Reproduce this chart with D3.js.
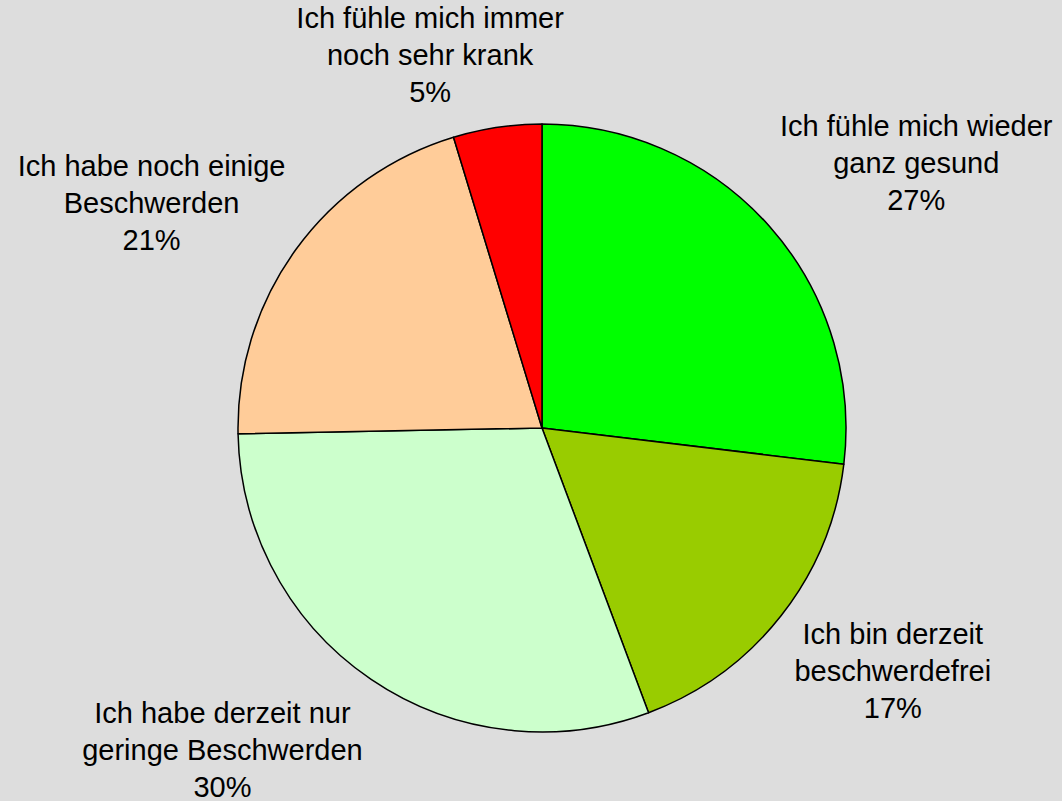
<!DOCTYPE html>
<html>
<head>
<meta charset="utf-8">
<script src="https://cdn.jsdelivr.net/npm/d3@7"></script>
<style>
  body { margin: 0; background: #dddddd; }
  svg { display: block; }
</style>
</head>
<body>
<div id="chart"></div>
<script>
const width = 1062;
const height = 801;

// Daten (Anteile in %)
const categories = [
  ["Ich fühle mich wieder", "ganz gesund"],
  ["Ich bin derzeit", "beschwerdefrei"],
  ["Ich habe derzeit nur", "geringe Beschwerden"],
  ["Ich habe noch einige", "Beschwerden"],
  ["Ich fühle mich immer", "noch sehr krank"]
];
const values = [26.9, 17.4, 30.4, 20.6, 4.7];
const colors = ["#00ff00", "#99cc00", "#ccffcc", "#ffcc99", "#ff0000"];

// Verschiebung der Beschriftungen (wie in Excel platziert)
const labelNudge = [[90, -13], [52, 8], [-106, 8], [-83, -2], [-56, 3]];

const cx = 542, cy = 428, radius = 304;

const svg = d3.select("#chart")
  .append("svg")
  .attr("width", width)
  .attr("height", height);

svg.append("rect")
  .attr("width", width)
  .attr("height", height)
  .attr("fill", "#dddddd");

const pie = d3.pie().sort(null).value(d => d);
const arcs = pie(values);

const arc = d3.arc().innerRadius(0).outerRadius(radius);
const labelArc = d3.arc().innerRadius(radius * 1.25).outerRadius(radius * 1.25);

const g = svg.append("g")
  .attr("transform", "translate(" + cx + "," + cy + ")");

g.selectAll("path")
  .data(arcs)
  .enter()
  .append("path")
  .attr("d", arc)
  .attr("fill", (d, i) => colors[i])
  .attr("stroke", "#000")
  .attr("stroke-width", 1.5)
  .attr("stroke-linejoin", "round");

// Beschriftungen
const labels = g.selectAll("text")
  .data(arcs)
  .enter()
  .append("text")
  .attr("font-family", "Liberation Sans, Arial, sans-serif")
  .attr("font-size", 29)
  .attr("fill", "#000")
  .attr("text-anchor", "middle")
  .attr("transform", (d, i) => {
    const c = labelArc.centroid(d);
    return "translate(" + (c[0] + labelNudge[i][0]) + "," + (c[1] + labelNudge[i][1]) + ")";
  });

labels.each(function(d, i) {
  const t = d3.select(this);
  const lines = categories[i].concat([Math.round(values[i]) + "%"]);
  lines.forEach((line, j) => {
    t.append("tspan")
      .attr("x", 0)
      .attr("y", (j - 1) * 37 + 10)
      .text(line);
  });
});
</script>
</body>
</html>
